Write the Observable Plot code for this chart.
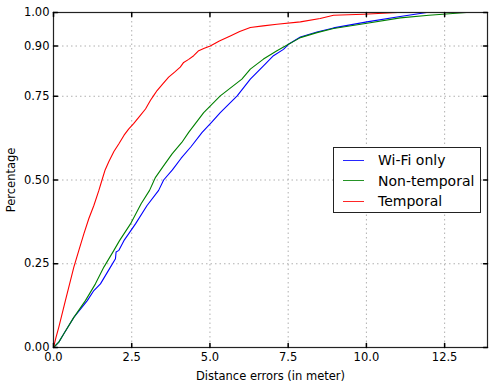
<!DOCTYPE html>
<html>
<head>
<meta charset="utf-8">
<script src="https://cdn.jsdelivr.net/npm/d3@7"></script>
<script src="https://cdn.jsdelivr.net/npm/@observablehq/plot@0.6"></script>
<style>
  html, body { margin: 0; padding: 0; background: #fff; }
  #wrap { position: relative; width: 496px; height: 386px; font-family: "DejaVu Sans", sans-serif; }
  #legend { position: absolute; left: 333px; top: 147px; width: 148px; height: 66px; border: 1.2px solid #222; background: #fff; box-sizing: border-box; }
  .row { position: absolute; left: 0; height: 20px; display: flex; align-items: center; }
  .sw { position: absolute; left: 9px; width: 21px; height: 0; border-top: 1.3px solid; opacity: 0.85; }
  .lab { position: absolute; left: 44px; font-size: 14px; white-space: nowrap; color: #000; }
</style>
</head>
<body>
<div id="wrap"><div id="legend"></div></div>
<script>
const seriesNames = ["Wi-Fi only", "Non-temporal", "Temporal"];
const seriesColors = ["#0000ff", "#008000", "#ff0000"];

const wifiX = [0, 0.17, 0.33, 0.65, 1.08, 1.29, 1.50, 1.82, 1.98, 2.00, 2.09, 2.25, 2.40, 2.62, 2.99, 3.36, 3.52, 3.80, 4.08, 4.40, 4.75, 5.05, 5.33, 5.87, 6.29, 6.71, 7.03, 7.35, 7.51, 7.89, 8.42, 8.95, 10.02, 11.08, 11.93, 13.87];
const wifiY = [0, 0.016, 0.041, 0.09, 0.14, 0.17, 0.19, 0.24, 0.265, 0.285, 0.29, 0.319, 0.339, 0.369, 0.424, 0.469, 0.50, 0.53, 0.565, 0.60, 0.642, 0.672, 0.701, 0.751, 0.801, 0.841, 0.871, 0.89, 0.905, 0.927, 0.942, 0.954, 0.972, 0.988, 1.0, 1.0];

const nonTempX = [0, 0.17, 0.33, 0.65, 1.02, 1.34, 1.61, 1.93, 2.11, 2.46, 2.80, 3.07, 3.26, 3.50, 3.79, 4.10, 4.32, 4.80, 5.33, 6.02, 6.29, 6.71, 7.14, 7.51, 7.89, 8.42, 8.95, 10.02, 11.08, 12.0, 13.2, 13.87];
const nonTempY = [0, 0.016, 0.041, 0.09, 0.14, 0.19, 0.24, 0.29, 0.319, 0.369, 0.429, 0.469, 0.508, 0.54, 0.578, 0.612, 0.642, 0.701, 0.751, 0.801, 0.831, 0.861, 0.886, 0.905, 0.925, 0.940, 0.952, 0.968, 0.984, 0.992, 1.0, 1.0];

const tempX = [0, 0.08, 0.17, 0.38, 0.65, 0.81, 0.97, 1.13, 1.29, 1.45, 1.55, 1.65, 1.77, 1.93, 2.09, 2.25, 2.40, 2.56, 2.75, 2.94, 3.10, 3.20, 3.31, 3.50, 3.68, 3.87, 4.05, 4.16, 4.32, 4.48, 4.64, 4.82, 5.01, 5.30, 5.65, 5.95, 6.29, 6.70, 7.14, 7.89, 8.52, 8.95, 9.91, 11.0, 13.87];
const tempY = [0, 0.03, 0.061, 0.14, 0.24, 0.29, 0.339, 0.385, 0.424, 0.469, 0.50, 0.53, 0.555, 0.585, 0.608, 0.633, 0.652, 0.668, 0.69, 0.712, 0.738, 0.752, 0.767, 0.788, 0.807, 0.822, 0.837, 0.851, 0.86, 0.871, 0.886, 0.893, 0.90, 0.915, 0.930, 0.943, 0.955, 0.96, 0.965, 0.972, 0.982, 0.992, 0.995, 1.0, 1.0];

const xTicks = [0, 2.5, 5, 7.5, 10, 12.5];
const yTicks = [0, 0.25, 0.5, 0.75, 0.9, 1.0];
const xDomain = [0, 13.87];
const yDomain = [0, 1];
const xLabel = "Distance errors (in meter)";
const yLabel = "Percentage";

const toRows = (xs, ys, name) => xs.map((x, i) => ({x, y: ys[i], name}));
const data = [
  ...toRows(wifiX, wifiY, seriesNames[0]),
  ...toRows(nonTempX, nonTempY, seriesNames[1]),
  ...toRows(tempX, tempY, seriesNames[2])
];

const tickShape = {draw(context, l) { context.moveTo(0, 0); context.lineTo(0, -l); }};
const gridStyle = {stroke: "#b0b0b0", strokeOpacity: 1, strokeDasharray: "1.5,3", strokeWidth: 1};

const chart = Plot.plot({
  width: 496,
  height: 386,
  marginLeft: 53,
  marginRight: 9,
  marginTop: 12,
  marginBottom: 39,
  style: {fontFamily: "DejaVu Sans, sans-serif", fontSize: "11.5px", color: "#000", background: "#fff"},
  x: {domain: xDomain},
  y: {domain: yDomain},
  color: {domain: seriesNames, range: seriesColors},
  marks: [
    Plot.gridX(xTicks, gridStyle),
    Plot.gridY(yTicks, gridStyle),
    Plot.line(data, {x: "x", y: "y", z: "name", stroke: "name", strokeWidth: 1.1}),
    Plot.frame({stroke: "#222", strokeWidth: 1.2}),
    Plot.vector(xTicks, {x: d => d, y: yDomain[0], length: 4, rotate: 0, anchor: "start", shape: tickShape, stroke: "#000"}),
    Plot.vector(xTicks, {x: d => d, y: yDomain[1], length: 4, rotate: 180, anchor: "start", shape: tickShape, stroke: "#000"}),
    Plot.vector(yTicks, {x: xDomain[0], y: d => d, length: 4, rotate: 90, anchor: "start", shape: tickShape, stroke: "#000"}),
    Plot.vector(yTicks, {x: xDomain[1], y: d => d, length: 4, rotate: -90, anchor: "start", shape: tickShape, stroke: "#000"}),
    Plot.axisX(xTicks, {tickSize: 0, tickPadding: 5, tickFormat: d3.format(".1f"), label: xLabel, labelAnchor: "center", labelArrow: "none", labelOffset: 32}),
    Plot.axisY(yTicks, {tickSize: 0, tickPadding: 4, tickFormat: d3.format(".2f"), label: yLabel, labelAnchor: "center", labelArrow: "none", labelOffset: 47})
  ]
});
document.getElementById("wrap").prepend(chart);

const legend = document.getElementById("legend");
seriesNames.forEach((name, i) => {
  const row = document.createElement("div");
  row.className = "row";
  row.style.top = (2 + i * 20.5) + "px";
  const sw = document.createElement("div");
  sw.className = "sw";
  sw.style.borderTopColor = seriesColors[i];
  const lab = document.createElement("div");
  lab.className = "lab";
  lab.textContent = name;
  row.appendChild(sw);
  row.appendChild(lab);
  legend.appendChild(row);
});
</script>
</body>
</html>
